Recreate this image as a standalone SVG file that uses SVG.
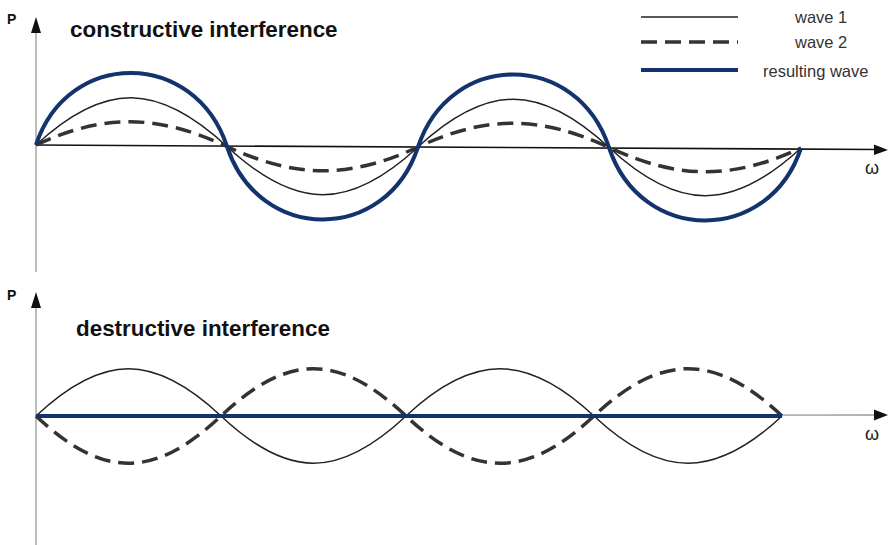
<svg xmlns="http://www.w3.org/2000/svg" width="888" height="545" viewBox="0 0 888 545">
  <style>
    .title { font-family: "Liberation Sans", Arial, sans-serif; font-weight: bold; font-size: 22.4px; fill: #111; }
    .axlbl { font-family: "Liberation Sans", Arial, sans-serif; font-weight: bold; font-size: 14px; fill: #111; }
    .omega { font-family: "Liberation Sans", Arial, sans-serif; font-size: 18px; fill: #222; }
    .leg { font-family: "Liberation Sans", Arial, sans-serif; font-size: 16.5px; fill: #333; }
    .yaxis { stroke: #9a9a9a; stroke-width: 1.3; fill: none; }
    .w1 { stroke: #222; stroke-width: 1.5; fill: none; }
    .w2 { stroke: #333; stroke-width: 3.5; fill: none; stroke-dasharray: 16 8; }
    .res { stroke: #12336b; stroke-width: 4; fill: none; }
    .arrow { fill: #111; }
  </style>
  <rect width="888" height="545" fill="#fff"/>

  <g id="top-panel">
    <line class="yaxis" x1="36" y1="30" x2="36" y2="272"/>
    <polygon class="arrow" points="36,17 31,33 41,33"/>
    <text class="axlbl" x="7" y="24">P</text>
    <text class="title" x="70" y="37">constructive interference</text>
    <line x1="36" y1="145" x2="878" y2="149.5" stroke="#111" stroke-width="1.6"/>
    <polygon class="arrow" points="888,150 874,144.5 874,155"/>
    <text class="omega" x="865" y="174">ω</text>
    <path class="w2" d="M36,145 C105,113 158,114.5 227,146.5 C296,178.5 349,179 418,147 C487,115 540,115.5 609,147.5 C678,179.5 732,180 801,148"/>
    <path class="w1" d="M36,145 C105,81 158,82.5 227,146.5 C296,210.5 349,211 418,147 C487,83 540,83.5 609,147.5 C678,211.5 732,212 801,148"/>
    <path class="res" d="M36,145 C68,48 195,49.5 227,146.5 C259,243.5 386,244 418,147 C450,50 577,50.5 609,147.5 C641,244.5 769,245 801,148"/>
  </g>

  <g id="bottom-panel">
    <line class="yaxis" x1="36" y1="305" x2="36" y2="545"/>
    <polygon class="arrow" points="36,292 31,308 41,308"/>
    <text class="axlbl" x="7" y="300">P</text>
    <text class="title" x="76" y="336">destructive interference</text>
    <line class="yaxis" x1="36" y1="416" x2="878" y2="415"/>
    <polygon class="arrow" points="888,415 874,409.5 874,420.5"/>
    <text class="omega" x="865" y="440">ω</text>
    <path class="w1" d="M36,416 C103,353 154,353 221,416 C288,479 339,479 406,416 C473,353 527,353 594,416 C661,479 715,479 782,416"/>
    <path class="w2" d="M36,416 C103,479 154,479 221,416 C288,353 339,353 406,416 C473,479 527,479 594,416 C661,353 715,353 782,416"/>
    <line class="res" x1="36" y1="416" x2="782" y2="416" stroke-width="5"/>
  </g>

  <g id="legend">
    <line class="w1" x1="641" y1="17" x2="738" y2="17"/>
    <text class="leg" x="795" y="23">wave 1</text>
    <line class="w2" x1="641" y1="42" x2="738" y2="42" stroke-dasharray="25 13"/>
    <text class="leg" x="795" y="48">wave 2</text>
    <line class="res" x1="641" y1="70" x2="738" y2="70"/>
    <text class="leg" x="763" y="77">resulting wave</text>
  </g>
</svg>
